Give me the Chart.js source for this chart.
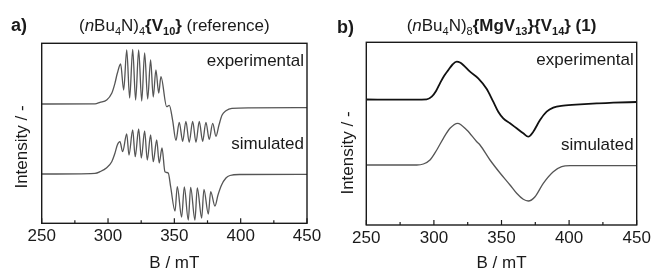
<!DOCTYPE html>
<html><head><meta charset="utf-8">
<script src="https://cdn.jsdelivr.net/npm/chart.js@4.4.1/dist/chart.umd.min.js"></script>
<style>
html,body{margin:0;padding:0;background:#fff;}
#wrap{position:relative;width:651px;height:270px;overflow:hidden;background:#fff;}
canvas{position:absolute;top:0;}
</style></head><body>
<div id="wrap">
<canvas id="ca" width="325" height="270" style="left:0;width:325px;height:270px"></canvas>
<canvas id="cb" width="326" height="270" style="left:325px;width:326px;height:270px"></canvas>
</div>
<script>
// ---------- data (B in mT, intensity in arbitrary units) ----------
const xTickValues = [250, 300, 350, 400, 450];

// panel a) experimental
const aExpField = [250,290.2,293.9,299.0,302.8,305.2,307.0,309.5,311.8,314.1,316.3,318.6,320.8,323.1,325.4,327.6,329.9,332.1,334.1,336.1,338.2,339.9,344.2,346.2,348.7,351.2,353.7,356.3,358.7,361.2,363.8,366.3,368.8,371.3,373.8,376.3,378.9,381.4,383.6,385.9,388.9,393.4,407.0,450];
const aExpInt   = [119.3,119.5,121,123.3,130,140,150,159.3,133.3,173.3,125.3,174,123.3,173.3,122.3,170.3,124.3,163.3,126.3,153.3,130.3,146.6,116.6,118,103,83,101,82,102,81,102,81,102,82,101,84,100,87,98,108,112.5,115,115.5,115.6];

// panel a) simulated
const aSimField = [250,290.2,293.9,299.0,302.8,305.2,307.0,309.0,311.0,314.1,315.8,318.6,320.5,323.1,325.1,327.6,329.6,332.1,334.1,336.7,338.6,340.7,342.9,345.4,347.2,350.5,352.2,355.5,357.5,360.5,362.3,365.5,367.3,370.6,372.3,375.6,377.4,380.6,382.9,385.6,388.9,391.9,399.4,450];
const aSimInt   = [49.3,50,51.6,55.6,61.6,70,78.3,81.6,71.6,89.3,68.3,93.3,66.6,94.3,65.3,92.3,63.3,88.3,61.6,83.3,60.3,75.3,51.6,50.3,36.6,12.3,36.6,6.3,36.3,3.3,36,3.3,35.5,5.3,34,9.3,31.6,17.3,28.3,38.3,45.3,47.8,48.8,49];

// panel b) experimental
const bExpField = [250,274.9,294.7,298.4,301.6,304.5,307.5,310.7,313.8,316.9,319.3,321.7,326.7,332.8,339.1,343.9,347.6,351.3,356.3,361.2,366.1,369.8,373.5,378.5,383.4,388.3,395.7,408.1,420.4,432.7,450];
const bExpInt   = [125.5,125.3,125.7,128.3,134,141.7,149,155,160.5,163.3,162.5,160,153.3,146.7,136,123.3,113.3,106.7,101.7,96.7,91.7,88.3,93.3,105,113.3,117.3,119.3,120.7,121.7,122.3,123];

// panel b) simulated
const bSimField = [250,287.3,292.2,297.1,302.1,307.0,311.9,317.6,324.3,331.7,334.1,341.5,348.9,356.3,361.2,366.1,369.8,374.8,380.9,388.3,394.5,400.7,450];
const bSimInt   = [60,60,61,65,75,86.7,96.7,101.7,95,83.3,80,65,52,40,31.7,25.7,24,28.3,41.7,53.3,58.3,59.3,59.3];

// ---------- helpers ----------
const FONT = '"Liberation Sans", Arial, sans-serif';
function pts(xs, ys){ return xs.map((x,i)=>({x:x, y:ys[i]})); }

function drawRich(ctx, segs, cx, baseline, size){
  const subSize = Math.round(size*0.64);
  const fontOf = s => (s.i?'italic ':'') + (s.b?'bold ':'') + (s.sub?subSize:size) + 'px ' + FONT;
  let total = 0;
  segs.forEach(s=>{ ctx.font = fontOf(s); s.w = ctx.measureText(s.t).width; total += s.w; });
  let x = cx - total/2;
  ctx.textAlign = 'left'; ctx.textBaseline = 'alphabetic';
  segs.forEach(s=>{ ctx.font = fontOf(s); ctx.fillText(s.t, x, baseline + (s.sub? size*0.26:0)); x += s.w; });
}

function makePanel(opts){
  return {
    id: 'panelDeco',
    afterDraw(chart){
      const ctx = chart.ctx, a = chart.chartArea, xs = chart.scales.x;
      ctx.save();
      // frame
      ctx.strokeStyle = '#1a1a1a'; ctx.lineWidth = 1.4;
      ctx.strokeRect(a.left, a.top, a.right-a.left, a.bottom-a.top);
      // minor/major tick marks (inward)
      ctx.lineWidth = 1.2;
      for(let v=250; v<=450; v+=25){
        const px = xs.getPixelForValue(v);
        const len = (v%50===0)?5:3;
        ctx.beginPath(); ctx.moveTo(px, a.bottom); ctx.lineTo(px, a.bottom-len); ctx.stroke();
      }
      ctx.fillStyle = '#1a1a1a';
      // panel label
      ctx.font = 'bold 18px ' + FONT; ctx.textAlign='left'; ctx.textBaseline='alphabetic';
      ctx.fillText(opts.label, opts.labelX, opts.labelY);
      // title
      drawRich(ctx, opts.title, (a.left+a.right)/2, opts.titleY, 17);
      // trace labels
      ctx.font = '17px ' + FONT; ctx.textAlign='right';
      ctx.fillText('experimental', a.right-3, opts.expY);
      ctx.fillText('simulated', a.right-3, opts.simY);
      // x title
      ctx.textAlign='center';
      ctx.fillText('B / mT', (a.left+a.right)/2, 268);
      // y title
      ctx.translate(opts.yTitleX, opts.yTitleY);
      ctx.rotate(-Math.PI/2);
      ctx.textBaseline='middle';
      ctx.fillText('Intensity / -', 0, 0);
      ctx.restore();
    }
  };
}

function makeChart(id, datasets, cfg){
  return new Chart(document.getElementById(id), {
    type: 'line',
    data: { datasets },
    options: {
      responsive: false, animation: false, devicePixelRatio: 1,
      layout: { padding: { left: 0, right: cfg.padRight, top: cfg.padTop, bottom: 0 } },
      plugins: { legend: {display:false}, tooltip:{enabled:false}, title:{display:false} },
      elements: { point: { radius: 0 }, line: { cubicInterpolationMode: 'monotone' } },
      scales: {
        x: {
          type: 'linear', min: 250, max: 450,
          afterBuildTicks: s => { s.ticks = xTickValues.map(v=>({value:v})); },
          ticks: { color:'#1a1a1a', font:{family:FONT, size:17}, padding: 3, maxRotation:0, autoSkip:false },
          grid: { display:false, drawTicks:false },
          border: { display:false },
          afterFit: s => { s.height = cfg.xHeight; s.paddingLeft = 0; s.paddingRight = 0; }
        },
        y: {
          type: 'linear', min: 0, max: cfg.yMax,
          ticks: { display:false },
          grid: { display:false, drawTicks:false },
          border: { display:false },
          afterFit: s => { s.width = cfg.yWidth; s.paddingTop = 0; s.paddingBottom = 0; }
        }
      }
    },
    plugins: [makePanel(cfg.deco)]
  });
}

makeChart('ca', [
  { data: pts(aExpField, aExpInt), borderColor:'#555', borderWidth:1.3, fill:false },
  { data: pts(aSimField, aSimInt), borderColor:'#555', borderWidth:1.3, fill:false }
], {
  padRight: 18, padTop: 43.3, xHeight: 46.7, yWidth: 41.7, yMax: 180,
  deco: {
    label: 'a)', labelX: 11, labelY: 31,
    title: [{t:'('},{t:'n',i:1},{t:'Bu'},{t:'4',sub:1},{t:'N)'},{t:'4',sub:1},{t:'{V',b:1},{t:'10',b:1,sub:1},{t:'}',b:1},{t:' (reference)'}],
    titleY: 31, expY: 66, simY: 149, yTitleX: 22, yTitleY: 147
  }
});

makeChart('cb', [
  { data: pts(bExpField, bExpInt), borderColor:'#111', borderWidth:1.8, fill:false },
  { data: pts(bSimField, bSimInt), borderColor:'#555', borderWidth:1.3, fill:false }
], {
  padRight: 14.3, padTop: 42.3, xHeight: 45, yWidth: 41.3, yMax: 182.7,
  deco: {
    label: 'b)', labelX: 12, labelY: 33,
    title: [{t:'('},{t:'n',i:1},{t:'Bu'},{t:'4',sub:1},{t:'N)'},{t:'8',sub:1},{t:'{MgV',b:1},{t:'13',b:1,sub:1},{t:'}{V',b:1},{t:'14',b:1,sub:1},{t:'} (1)',b:1}],
    titleY: 31, expY: 65, simY: 150, yTitleX: 23, yTitleY: 153
  }
});
</script>
</body></html>
